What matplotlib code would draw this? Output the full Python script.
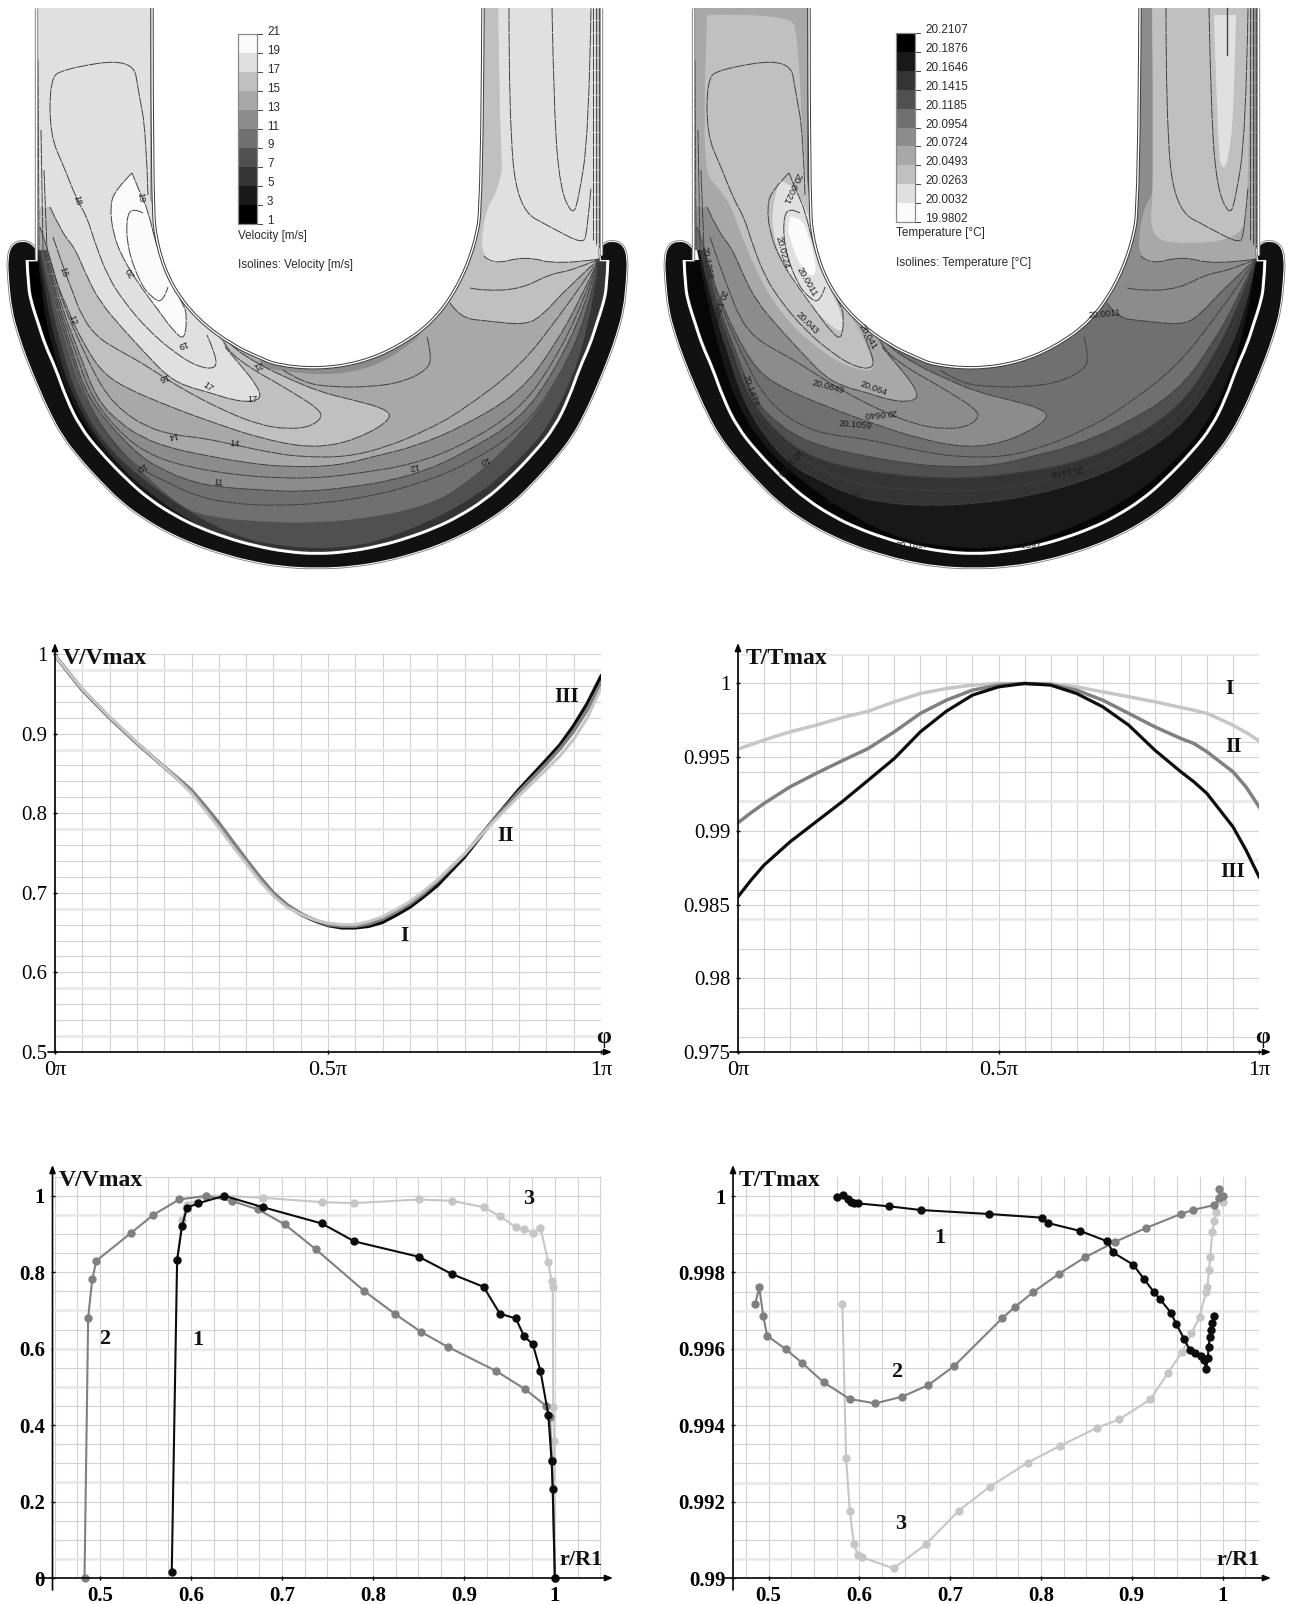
import numpy as np
import matplotlib
matplotlib.use("Agg")
import matplotlib.pyplot as plt
from matplotlib.patches import PathPatch, Rectangle
from matplotlib.path import Path

W, H = 1289, 1604
SERIF = "Liberation Serif"
SANS = "Liberation Sans"

# ---- field geometry (image pixels of the left panel) ----
WHITE_LINE = [(27, 260), (28, 287), (32, 305), (38, 323), (45, 345), (55, 367), (66, 398), (80, 427), (100, 452), (127, 480),
              (150, 500), (177, 517), (200, 528), (227, 538), (255, 546), (287, 552), (317, 554), (347, 552), (380, 546),
              (408, 538), (435, 528), (458, 517), (485, 500), (508, 480), (535, 452), (555, 427), (569, 398), (580, 367),
              (590, 345), (597, 323), (603, 305), (607, 287), (608, 260)]
JACKET_OUT = [(36, 250), (32, 244), (22, 241), (12, 245), (8, 258), (9, 280), (12, 310), (19, 335), (27, 358), (38, 385),
              (50, 412), (63, 436), (80, 458), (100, 480), (122, 502), (147, 520), (172, 534), (200, 546), (222, 553),
              (247, 560), (280, 566), (317, 568), (354, 566), (388, 560), (413, 553), (435, 546), (463, 534), (488, 520),
              (513, 502), (535, 480), (555, 458), (572, 436), (585, 412), (597, 385), (608, 358), (616, 335), (623, 310),
              (626, 280), (627, 258), (623, 245), (613, 241), (603, 244), (600, 250)]
INNER_WALL = [(152, 8), (152, 203), (157, 247), (172, 287), (198, 320), (232, 345), (260, 358), (277, 365), (317, 369),
              (360, 363), (398, 347), (433, 322), (458, 287), (475, 245), (482, 203), (483, 8)]
LEFT_WALL = [(36, 8), (36, 260)]
RIGHT_WALL = [(601, 8), (601, 255)]

R3 = [(37, 250), (42, 300), (52, 350), (70, 400), (100, 450), (150, 500), (215, 548), (260, 560), (640, 540)]
R5 = [(38, 250), (46, 300), (57, 350), (74, 400), (104, 450), (155, 500), (233, 545), (260, 560), (640, 540)]
R7 = [(40, 250), (50, 300), (62, 350), (78, 400), (108, 450), (165, 497), (233, 537), (293, 548), (347, 548),
      (393, 537), (460, 507), (510, 470), (555, 420), (590, 330), (599, 259)]
R9 = [(42, 250), (53, 300), (68, 350), (84, 400), (120, 450), (150, 480), (183, 508), (210, 517), (260, 522), (317, 523),
      (377, 517), (427, 505), (460, 488), (510, 445), (550, 395), (585, 325), (599, 259)]
L5 = [(43, 250), (54, 300), (70, 350), (86, 400), (110, 440), (138, 468), (163, 480), (193, 495), (227, 503), (273, 506),
      (327, 503), (377, 495), (420, 483), (460, 468), (520, 432), (558, 380), (588, 315), (599, 259)]
R11 = [(44, 250), (56, 300), (72, 350), (88, 400), (137, 455), (167, 472), (193, 482), (218, 487), (260, 490), (303, 492),
       (353, 487), (393, 480), (427, 470), (460, 455), (520, 420), (555, 370), (584, 310), (599, 259)]
L3 = [(45, 250), (57, 300), (75, 350), (92, 400), (127, 440), (157, 458), (193, 468), (237, 475), (277, 478), (320, 478),
      (360, 473), (410, 465), (460, 447), (520, 410), (555, 360), (582, 305), (599, 259)]
R13 = [(46, 250), (59, 300), (78, 350), (97, 400), (120, 423), (143, 438), (170, 448), (203, 455), (247, 463), (287, 467),
       (337, 466), (380, 455), (413, 447), (460, 428), (520, 393), (555, 345), (580, 300), (599, 259)]
L1 = [(47, 250), (61, 300), (83, 350), (103, 390), (123, 412), (147, 427), (173, 435), (203, 438), (235, 445), (273, 453),
      (303, 457), (347, 457), (387, 447), (427, 430), (460, 412), (520, 367), (560, 315), (585, 280), (599, 259)]
X15 = [(40, 227), (48, 250), (58, 287), (67, 307), (72, 320), (83, 342), (100, 370), (123, 387), (173, 408), (220, 425),
       (260, 438), (303, 447), (337, 445), (370, 433), (393, 417), (383, 408), (353, 400), (320, 392), (287, 378),
       (260, 365), (233, 348), (227, 340)]
Z17 = [(50, 207), (62, 233), (75, 248), (87, 277), (100, 302), (122, 328), (145, 353), (168, 377), (188, 387), (208, 392),
       (232, 400), (252, 402), (262, 397), (255, 383), (242, 367), (225, 347)]
Y16 = [(53, 237), (63, 267), (72, 290), (82, 317), (97, 337), (118, 350), (142, 363), (163, 377), (193, 395), (227, 412),
       (260, 425), (287, 429), (310, 427), (323, 417), (317, 408), (300, 397), (277, 383), (250, 368), (227, 350), (223, 340)]
WHITE_BLOB = [(132, 173), (115, 190), (110, 207), (113, 233), (122, 257), (138, 283), (158, 310), (175, 333), (185, 340),
              (187, 313), (182, 303), (158, 253), (148, 210), (140, 193), (132, 173)]
ISO20 = [(143, 213), (132, 207), (126, 220), (128, 250), (140, 283), (152, 298), (163, 303), (168, 287)]
ISO18 = [(148, 195), (146, 132), (139, 94), (133, 58), (62, 69), (50, 80), (50, 135), (64, 167), (77, 200), (87, 217),
         (95, 243), (108, 277), (125, 303), (148, 330), (175, 353), (198, 367), (217, 369), (215, 353), (207, 335)]
C1 = [(283, 370), (303, 383), (333, 387), (370, 387), (403, 382), (427, 370), (432, 357), (427, 337)]
NEAR_WALL = [(260, 367), (293, 373), (333, 375), (370, 368), (400, 352), (427, 330), (420, 300), (260, 340)]
R15_EDGE = [(450, 303), (460, 318), (487, 321), (525, 325), (542, 316), (566, 289), (599, 259)]
R15_STOP = [(601, 240), (605, 0), (480, 0), (480, 200)]
R17_SIDE = [(498, 0), (500, 113), (502, 170)]
R17_EDGE = [(502, 170), (497, 193), (487, 207), (481, 240), (484, 256), (492, 265), (525, 256), (558, 265), (599, 259)]
R17_STOP = [(597, 240), (597, 0)]
RIGHT_MID = [(470, 288), (484, 291), (521, 289), (550, 274), (574, 270), (599, 259)]
RIGHT_TIP = [(552, 8), (554, 113), (560, 188), (572, 215), (578, 203), (589, 132), (591, 8)]
RIGHT_BOX = [(509, 8), (509, 113), (517, 209), (554, 229), (583, 244), (587, 233), (591, 188)]
WALL_HATCH = [[(38, 60), (39, 250)], [(41, 130), (43, 250)], [(44, 170), (47, 250)], [(593, 8), (593, 240)],
              [(596, 8), (596, 245)], [(599, 8), (599, 250)]]

# temperature field, same frame
T_WHITE = [(133, 217), (143, 217), (151, 233), (160, 267), (156, 278), (146, 270), (136, 250), (131, 230)]
T_E0 = [(123, 180), (115, 202), (116, 237), (130, 273), (156, 310), (186, 336), (186, 317), (173, 290), (160, 253),
        (151, 207), (136, 187)]
T_C0 = [(50, 15), (134, 13), (141, 38), (146, 150), (160, 260), (203, 330), (210, 347), (220, 373), (190, 367), (163, 350),
        (136, 327), (110, 293), (90, 250), (73, 203), (60, 187), (46, 170), (48, 80)]
T_C0_RIGHT = [(495, 8), (497, 190), (492, 230), (510, 245), (585, 240), (592, 200), (593, 8)]
T_E0_RIGHT = [(557, 15), (561, 150), (565, 170), (571, 162), (577, 113), (579, 15)]
T_NEEDLE = [(570, 8), (570, 55)]

V_GRAYS = ["#000000", "#181818", "#343434", "#505050", "#707070", "#8c8c8c", "#a8a8a8", "#c0c0c0", "#e0e0e0", "#fbfbfb"]
V_TICKS = ["21", "19", "17", "15", "13", "11", "9", "7", "5", "3", "1"]
T_TICKS = ["20.2107", "20.1876", "20.1646", "20.1415", "20.1185", "20.0954", "20.0724", "20.0493", "20.0263",
           "20.0032", "19.9802"]

V_LABELS = [("18", 77, 200, -75), ("19", 141, 198, -80), ("20", 131, 272, 120), ("19", 182, 344, 200), ("16", 63, 272, -70),
            ("12", 72, 320, -70), ("16", 163, 377, 200), ("17", 208, 387, -35), ("17", 252, 399, 0), ("14", 173, 435, 190),
            ("14", 235, 444, -5), ("11", 218, 483, -5), ("12", 414, 466, 190), ("10", 141, 467, 210), ("10", 484, 460, 200),
            ("21", 258, 365, 200)]
T_LABELS = [("20.0021", 135, 188, -115), ("20.0224", 125, 252, -75), ("20.0011", 150, 282, -60), ("20.043", 150, 323, -45),
            ("20.0849", 171, 387, -15), ("20.064", 216, 388, -20), ("20.0640", 223, 413, 185), ("20.1059", 198, 425, -5),
            ("20.0011", 448, 314, 5), ("20.1478", 410, 470, 190), ("20.1688", 186, 496, 190), ("20.1688", 132, 462, 230),
            ("20.1897", 255, 545, 0), ("20.1897", 368, 545, 0), ("20.1268", 50, 263, -80), ("20.1268", 61, 305, 250),
            ("20.1478", 93, 391, -70), ("20.041", 211, 337, -60)]

# ---- line charts ----
PHI_V = [0, .05, .1, .15, .2, .225, .25, .275, .3, .325, .35, .375, .4, .425, .45, .475, .5, .525, .55, .575, .6, .625, .65, .675, .7, .75, .8, .85, .9, .925, .95, .975, 1]
V_III = [.998, .955, .920, .888, .858, .843, .827, .807, .785, .763, .741, .719, .699, .684, .673, .665, .659, .656, .656, .658, .663, .672, .682, .695, .709, .745, .789, .830, .867, .886, .910, .938, .972]
V_II = [.998, .955, .920, .888, .858, .844, .829, .809, .788, .765, .742, .720, .700, .685, .674, .666, .660, .658, .658, .661, .667, .676, .686, .699, .714, .748, .789, .827, .862, .881, .903, .930, .963]
V_I = [.998, .956, .921, .889, .858, .842, .825, .804, .782, .759, .737, .715, .696, .682, .673, .666, .662, .660, .660, .664, .670, .679, .689, .702, .716, .749, .787, .822, .855, .872, .893, .920, .957]

PHI_T = [0, .025, .05, .075, .10, .15, .20, .25, .30, .35, .40, .45, .50, .55, .60, .65, .70, .75, .80, .85, .875, .90, .925, .95, .975, 1.00]
T_I = [.99555, .99586, .99616, .99645, .99672, .99717, .99769, .99812, .99876, .99932, .99966, .99989, 1.0, 1.0, 1.0, .99977, .99943, .9991, .99876, .99837, .99819, .99797, .99758, .99717, .99668, .99611]
T_II = [.99055, .99123, .99186, .99243, .99299, .9939, .99476, .99559, .99672, .99797, .99887, .99955, .99989, 1.0, .99993, .99955, .99887, .99797, .99706, .99627, .99593, .99537, .99469, .99401, .99299, .99164]
T_III = [.98553, .98666, .98768, .98847, .98926, .99062, .99198, .99344, .99491, .99672, .99812, .99921, .99977, 1.0, .99989, .99932, .99842, .99717, .99548, .99401, .99333, .99254, .99141, .99028, .9887, .98689]

RV1_X = [.5788, .5847, .5901, .5955, .6072, .6365, .6788, .7437, .7797, .8505, .8869, .9216, .9396, .9572, .9662, .9757, .9842, .9928, .9964, .9977, 1.0]
RV1_Y = [.0148, .8317, .9207, .9686, .98, 1.0, .9704, .9276, .8806, .8405, .7951, .762, .6914, .6792, .6321, .612, .5414, .4272, .3069, .2337, 0]
RV2_X = [.4829, .4869, .4914, .4959, .5342, .5586, .5869, .6167, .6455, .6739, .7032, .7374, .7905, .8239, .8532, .8820, .9356, .9671, .9901, .9946, .9968, 1.0]
RV2_Y = [0, .6809, .7812, .83, .9032, .9503, .9904, 1.0, .986, .9643, .925, .8596, .7507, .6914, .6434, .6051, .5414, .4943, .4507, .422, .3086, 0]
RV3_X = [.5847, .5901, .5955, .6167, .6365, .6788, .7437, .7797, .8505, .8869, .9216, .9396, .9572, .9662, .9757, .9842, .9928, .9964, .9977, .9982, .9991, 1.0]
RV3_Y = [.8317, .9363, .9756, 1.0, 1.0, .9948, .9834, .9808, .9904, .9869, .9704, .9468, .9172, .9137, .9032, .9163, .8256, .7759, .7602, .4464, .3592, 0]

RT1_X = [.5758, .5821, .5871, .5912, .5943, .5979, .6331, .6674, .7432, .8014, .8078, .8434, .8732, .8791, .9016, .9138, .9246, .9310, .9431, .9490, .9576, .9639, .9693, .9761, .9797, .9819, .9838, .9847, .9860, .9874, .9887, .9905]
RT1_Y = [.999974, 1.000017, .999913, .999852, .999808, .999808, .99973, .999634, .999529, .999433, .999293, .999084, .998813, .998525, .998202, .997818, .997478, .997304, .996946, .996649, .996265, .995969, .99589, .995812, .995707, .995463, .99575, .996056, .996318, .996492, .996667, .996859]
RT2_X = [.4851, .4896, .4941, .4982, .519, .5366, .5605, .5894, .6173, .6471, .676, .7044, .7572, .7717, .7911, .8195, .8484, .8813, .9156, .9540, .9671, .9910, .9964, .9964, 1.0]
RT2_Y = [.997173, .997609, .996859, .996344, .995986, .995637, .995122, .994686, .994572, .994747, .995052, .99555, .996798, .997103, .997478, .997958, .998394, .998796, .999162, .999529, .999634, .999764, .999939, 1.000183, 1.0]
RT3_X = [.5812, .5853, .5894, .5939, .5984, .6029, .6376, .6733, .7094, .7437, .7852, .8213, .8619, .8863, .9206, .9395, .9558, .9657, .9747, .9819, .9833, .9851, .9865, .9887, .9910, .9928, .9964, 1.0]
RT3_Y = [.997164, .993133, .991754, .990881, .990602, .990541, .990253, .990881, .991763, .992391, .993019, .993464, .993935, .994154, .994677, .995358, .995925, .996405, .996824, .997496, .997627, .998063, .998412, .999066, .999346, .99959, .999939, .999852]

DARK, MID, LIGHT = "#0c0c0c", "#808080", "#c6c6c6"
GRID_THIN, GRID_THICK = "#d2d2d2", "#e8e8e8"

fig = plt.figure(figsize=(W / 100, H / 100), dpi=100, facecolor="white")
bg = fig.add_axes([0, 0, 1, 1])
bg.set_xlim(0, W)
bg.set_ylim(H, 0)
bg.axis("off")


def build(segments, dx=0, close=False):
    # segments: (points, smooth) - smooth ones become quadratic curves through the midpoints
    verts, codes = [], []
    for pts, smooth in segments:
        pts = [(x + dx, y) for x, y in pts]
        if not pts:
            continue
        if not verts:
            verts.append(pts[0])
            codes.append(Path.MOVETO)
        else:
            verts.append(pts[0])
            codes.append(Path.LINETO)
        if smooth and len(pts) > 2:
            for i in range(1, len(pts) - 1):
                mid = ((pts[i][0] + pts[i + 1][0]) / 2, (pts[i][1] + pts[i + 1][1]) / 2)
                if i == len(pts) - 2:
                    mid = pts[i + 1]
                verts += [pts[i], mid]
                codes += [Path.CURVE3, Path.CURVE3]
        else:
            verts += pts[1:]
            codes += [Path.LINETO] * (len(pts) - 1)
    if close:
        verts.append(verts[0])
        codes.append(Path.CLOSEPOLY)
    return Path(verts, codes)


TOP_CLOSE = [(640, 259), (640, -5), (-5, -5)]


def above(curve, col):
    # region on the inner side of a band edge, closed round the outside of the channel
    return [(curve, True), (TOP_CLOSE + [(-5, curve[0][1])], False)], col


def left_region(curve, stop, col):
    return [(curve, True), (stop + [(150, 200), (150, -5), (-5, -5), (-5, curve[0][1])], False)], col


def blob(pts, col):
    return [(pts, True)], col


def field(dx, fills, labels):
    domain = [(LEFT_WALL, False), (WHITE_LINE, True), (RIGHT_WALL[::-1], False), (INNER_WALL[::-1], True)]
    clip = PathPatch(build(domain, dx, True), transform=bg.transData)
    for segs, col in fills:
        p = PathPatch(build(segs, dx, True), fc=col, ec="none", zorder=2)
        bg.add_patch(p)
        p.set_clip_path(clip)
    isos = [X15, Y16, Z17, L1, R13, L3, R11, L5, ISO18, WHITE_BLOB, ISO20, C1, RIGHT_MID, RIGHT_TIP, RIGHT_BOX,
            R15_EDGE, R17_EDGE[4:]] + WALL_HATCH
    for iso in isos:
        ln = PathPatch(build([(iso, True)], dx), fc="none", ec="#404040", lw=0.7, ls=(0, (12, 0.8)), zorder=3)
        bg.add_patch(ln)
        ln.set_clip_path(clip)
    # jacket round the bend
    jacket = [(JACKET_OUT, True), ([(601, 260), (608, 260)], False), (WHITE_LINE[::-1], True), ([(36, 260)], False)]
    jp = build(jacket, dx, True)
    bg.add_patch(PathPatch(jp, fc="none", ec="#7a7a7a", lw=2.6, zorder=4))
    bg.add_patch(PathPatch(jp, fc="none", ec="white", lw=1.4, zorder=4))
    bg.add_patch(PathPatch(jp, fc="#111111", ec="none", zorder=4))
    bg.add_patch(PathPatch(build([(WHITE_LINE, True)], dx), fc="none", ec="white", lw=2.0, zorder=5))
    for wall, c, sm in ((INNER_WALL, "#3a3a3a", True), (LEFT_WALL, "#808080", False), (RIGHT_WALL, "#808080", False)):
        wp = build([(wall, sm)], dx)
        bg.add_patch(PathPatch(wp, fc="none", ec=c, lw=2.4, zorder=5, capstyle="butt"))
        bg.add_patch(PathPatch(wp, fc="none", ec="white", lw=1.0, zorder=6, capstyle="butt"))
    for txt, x, y, rot in labels:
        bg.text(x + dx, y, txt, fontsize=6.6, family=SANS, color="#1a1a1a", rotation=rot, ha="center", va="center", zorder=7)


BASE = [(LEFT_WALL + RIGHT_WALL[::-1] + [(640, 600), (-5, 600)], False)]
RIGHT_15 = [(R15_EDGE, True), (R15_STOP, False)]
RIGHT_17 = [(R17_SIDE, False), (R17_EDGE, True), (R17_STOP, False)]
v_fills = [(BASE, V_GRAYS[0]),
           above(R3, V_GRAYS[1]), above(R5, V_GRAYS[2]), above(R7, V_GRAYS[3]), above(R9, V_GRAYS[4]),
           above(R11, V_GRAYS[5]), above(R13, V_GRAYS[6]), blob(NEAR_WALL, V_GRAYS[5]),
           left_region(X15, [(215, 325)], V_GRAYS[7]), (RIGHT_15, V_GRAYS[7]),
           left_region(Z17, [(215, 330)], V_GRAYS[8]), (RIGHT_17, V_GRAYS[8]),
           blob(WHITE_BLOB, V_GRAYS[9])]
t_fills = [(BASE, "#060606"),
           above(R7, V_GRAYS[1]), above(L5, V_GRAYS[2]), above(L3, V_GRAYS[3]), above(R13, V_GRAYS[4]),
           left_region(X15, [(215, 325)], V_GRAYS[5]), (RIGHT_15, V_GRAYS[5]),
           left_region(Z17, [(215, 330)], V_GRAYS[6]), (RIGHT_17, V_GRAYS[6]),
           blob(T_C0, V_GRAYS[7]), blob(T_C0_RIGHT, V_GRAYS[7]), blob(T_E0, V_GRAYS[8]), blob(T_E0_RIGHT, V_GRAYS[8]),
           blob(T_WHITE, V_GRAYS[9])]
field(0, v_fills, V_LABELS)
field(657, t_fills, T_LABELS)
bg.plot([x + 657 for x, y in T_NEEDLE], [y for x, y in T_NEEDLE], color="#444444", lw=1.0, zorder=3)


def color_legend(x0, x1, top, bottom, grays, ticks, title, iso, lab_x, first_y, last_y, title_y, iso_y, fs):
    n = len(grays)
    edges = np.linspace(top, bottom, n + 1)
    for i, col in enumerate(grays):
        # each cell runs down to the bar's foot so no seam shows between cells
        bg.add_patch(Rectangle((x0, edges[i]), x1 - x0, bottom - edges[i], fc=col, ec="none", zorder=8))
    bg.add_patch(Rectangle((x0, top), x1 - x0, bottom - top, fc="none", ec="#8a8a8a", lw=0.9, zorder=9))
    for e in edges:
        bg.plot([x1, x1 + 5], [e, e], color="#444444", lw=0.7, zorder=8)
    for t, y in zip(ticks, np.linspace(first_y, last_y, len(ticks))):
        bg.text(lab_x, y, t, fontsize=fs, family=SANS, color="#2a2a2a", va="center", ha="left", zorder=9)
    bg.text(x0, title_y, title, fontsize=fs, family=SANS, color="#2a2a2a", va="center", ha="left", zorder=9)
    bg.text(x0, iso_y, iso, fontsize=fs, family=SANS, color="#2a2a2a", va="center", ha="left", zorder=9)


color_legend(238, 257, 34, 224, V_GRAYS[::-1], V_TICKS, "Velocity [m/s]", "Isolines: Velocity [m/s]", 267, 32, 221, 236, 265, 8.4)
color_legend(896, 915, 33, 222, V_GRAYS, T_TICKS, "Temperature [°C]", "Isolines: Temperature [°C]", 925, 30, 219, 233, 263, 8.5)


def chart(left, right, top, bottom, xlim, ylim, xminor, yminor, xmajor, ymajor, xlabels, ylabels, thick, bold, labelpad, xfs):
    ax = fig.add_axes([left / W, 1 - bottom / H, (right - left) / W, (bottom - top) / H])
    ax.set_facecolor("none")
    ax.set_xlim(*xlim)
    ax.set_ylim(*ylim)
    for s in ax.spines.values():
        s.set_visible(False)
    ax.set_xticks(xminor, minor=True)
    ax.set_yticks(yminor, minor=True)
    weight = "bold" if bold else "normal"
    ax.set_xticks(xmajor, xlabels, family=SERIF, fontsize=xfs, fontweight=weight)
    ax.set_yticks(ymajor, ylabels, family=SERIF, fontsize=15, fontweight=weight)
    ax.tick_params(which="minor", length=0)
    ax.tick_params(axis="x", which="major", length=3, width=1, direction="inout", pad=labelpad[0])
    ax.tick_params(axis="y", which="major", length=3, width=1, direction="inout", pad=labelpad[1])
    ax.grid(which="both", color=GRID_THIN, lw=0.8)
    ax.set_axisbelow(True)
    for y in thick:
        ax.axhline(y, color=GRID_THICK, lw=1.8, zorder=0.6)
    return ax


PHI_MINOR = np.arange(0, 1.001, 0.05)
phi_ticks = [0, 0.5, 1]
phi_labels = ["0π", "0.5π", "1π"]

ax3 = chart(55, 601, 654, 1052, (0, 1), (0.5, 1), PHI_MINOR, np.arange(0.5, 1.001, 0.02), phi_ticks,
            [0.5, 0.6, 0.7, 0.8, 0.9, 1], phi_labels, ["0.5", "0.6", "0.7", "0.8", "0.9", "1"],
            [0.98, 0.88, 0.78, 0.68, 0.58, 0.52], False, (5, 4), 16)
ax3.plot(PHI_V, V_III, color=DARK, lw=2.5)
ax3.plot(PHI_V, V_II, color=MID, lw=2.5)
ax3.plot(PHI_V, V_I, color=LIGHT, lw=2.2)

ax4 = chart(738, 1259, 654, 1052, (0, 1), (0.975, 1.002), PHI_MINOR, np.arange(0.976, 1.0021, 0.002), phi_ticks,
            [0.975, 0.98, 0.985, 0.99, 0.995, 1], phi_labels, ["0.975", "0.98", "0.985", "0.99", "0.995", "1"],
            [1.002, 0.992, 0.988, 0.984], False, (5, 4), 16)
ax4.plot(PHI_T, T_I, color=LIGHT, lw=2.5)
ax4.plot(PHI_T, T_II, color=MID, lw=2.5)
ax4.plot(PHI_T, T_III, color=DARK, lw=2.3)

R_LABELS = ["0.5", "0.6", "0.7", "0.8", "0.9", "1"]
ax5 = chart(52.5, 601.6, 1176.7, 1578, (0.4477, 1.0514), (0, 1.0497), np.arange(0.45, 1.051, 0.025), np.arange(0, 1.0501, 0.05),
            [0.5, 0.6, 0.7, 0.8, 0.9, 1], [0, 0.2, 0.4, 0.6, 0.8, 1], R_LABELS, ["0", "0.2", "0.4", "0.6", "0.8", "1"],
            [0.05, 0.25, 0.5, 0.6, 0.7, 0.95], True, (4, 4), 15)
for xs, ys, col in ((RV3_X, RV3_Y, LIGHT), (RV2_X, RV2_Y, MID), (RV1_X, RV1_Y, DARK)):
    ax5.plot(xs, ys, color=col, lw=1.5, marker="o", ms=5, clip_on=False)

ax6 = chart(733, 1259, 1176.7, 1578, (0.4607, 1.0402), (0.99, 1.000506), np.arange(0.475, 1.031, 0.025), np.arange(0.9905, 1.0005, 0.0005),
            [0.5, 0.6, 0.7, 0.8, 0.9, 1], [0.99, 0.992, 0.994, 0.996, 0.998, 1], R_LABELS, ["0.99", "0.992", "0.994", "0.996", "0.998", "1"],
            [0.9995, 0.997, 0.996, 0.995, 0.9925, 0.9905], True, (4, 4), 15)
for xs, ys, col in ((RT3_X, RT3_Y, LIGHT), (RT2_X, RT2_Y, MID), (RT1_X, RT1_Y, DARK)):
    ax6.plot(xs, ys, color=col, lw=1.5, marker="o", ms=5, clip_on=False)

# axes with arrows and hand-placed annotations go on a top layer
top = fig.add_axes([0, 0, 1, 1], facecolor="none")
top.set_xlim(0, W)
top.set_ylim(H, 0)
top.axis("off")
ARROWS = [((55, 1052), (55, 643)), ((48, 1052), (612, 1052)),
          ((738, 1052), (738, 643)), ((730, 1052), (1271, 1052)),
          ((52.5, 1590), (52.5, 1165)), ((39, 1578), (613, 1578)),
          ((733, 1590), (733, 1165)), ((725, 1578), (1271, 1578))]
for start, tip in ARROWS:
    top.annotate("", xy=tip, xytext=start, arrowprops=dict(arrowstyle="-|>,head_length=0.45,head_width=0.18", color="black", lw=1.2, shrinkA=0, shrinkB=0))

NOTES = [("V/Vmax", 63, 658, "left", 17), ("φ", 604, 1037, "center", 17), ("III", 567, 697, "center", 15), ("II", 506, 836, "center", 15), ("I", 404, 936, "center", 15),
         ("T/Tmax", 746, 658, "left", 17), ("φ", 1263, 1037, "center", 17), ("I", 1229, 689, "center", 15), ("II", 1233, 747, "center", 15), ("III", 1233, 872, "center", 15),
         ("V/Vmax", 59, 1180, "left", 17), ("3", 529, 1199, "center", 16), ("2", 104.5, 1339, "center", 16), ("1", 197.5, 1340, "center", 16), ("r/R1", 581, 1560, "center", 16),
         ("T/Tmax", 739, 1180, "left", 17), ("1", 940, 1238, "center", 16), ("2", 897, 1372, "center", 16), ("3", 901, 1524, "center", 16), ("r/R1", 1238, 1560, "center", 16)]
for txt, x, y, ha, fs in NOTES:
    top.text(x, y, txt, family=SERIF, fontweight="bold", fontsize=fs, ha=ha, va="center", color="#111111")

fig.savefig("out.png", dpi=100)
